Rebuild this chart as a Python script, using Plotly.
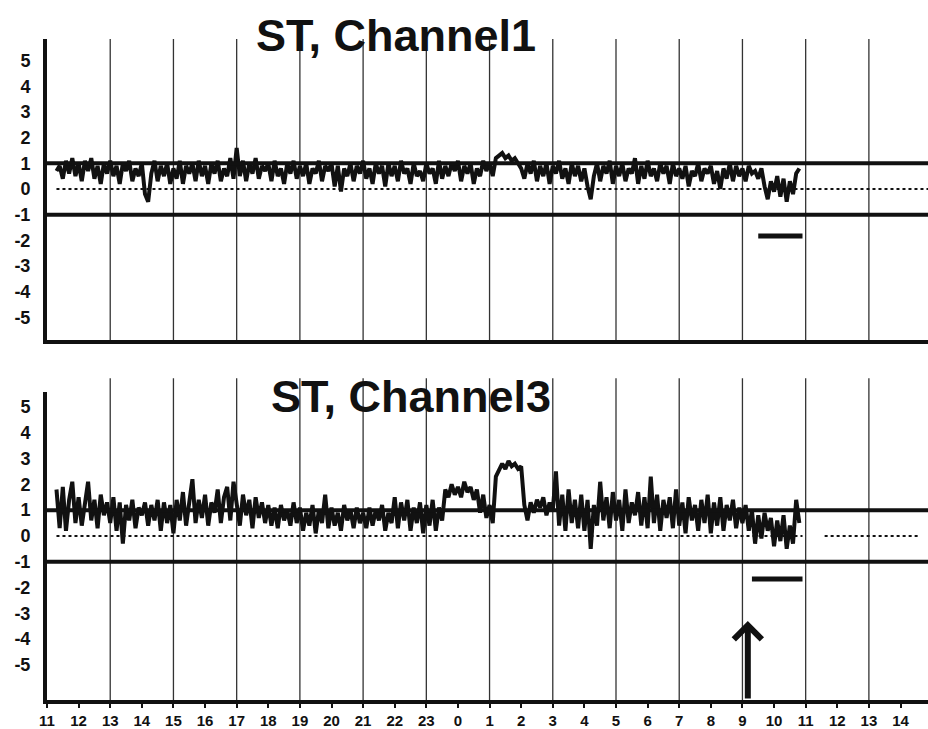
import numpy as np
import plotly.graph_objects as go

# ---------------- data ----------------
# time in hours (continuous, 11 h on day 1 -> 14 h on day 2 = 38)
tick_hours = list(range(11, 39))
tick_labels = [str(h % 24) for h in tick_hours]
grid_hours = list(range(13, 39, 2))

t_start = 11.3
t_step = 0.1

# ST level (mm), Channel 1, one row per hour-block
ch1_rows = [
    [0.7, 0.9, 0.4, 1.1, 0.6, 1.2, 0.5],                 # 11.3-11.9
    [1.0, 0.3, 1.1, 0.7, 1.2, 0.4, 0.9, 0.2, 1.0, 0.6],  # 12
    [1.1, 0.5, 0.9, 0.2, 1.0, 0.7, 1.1, 0.3, 0.8, 0.5],  # 13
    [1.0, -0.2, -0.5, 0.6, 1.1, 0.3, 0.9, 0.5, 1.0, 0.2],  # 14
    [0.8, 0.4, 1.1, 0.2, 0.9, 0.6, 1.0, 0.3, 1.1, 0.5],  # 15
    [0.9, 0.2, 1.0, 0.6, 1.1, 0.3, 0.8, 0.5, 1.2, 0.4],  # 16
    [1.6, 0.5, 1.1, 0.3, 1.0, 0.6, 1.2, 0.4, 0.9, 0.7],  # 17
    [1.0, 0.3, 1.1, 0.5, 0.8, 0.2, 1.0, 0.6, 1.1, 0.4],  # 18
    [0.9, 0.5, 1.0, 0.2, 0.8, 0.6, 1.1, 0.3, 0.9, 0.7],  # 19
    [1.0, 0.1, 0.9, -0.1, 0.8, 0.5, 1.0, 0.3, 0.9, 0.6],  # 20
    [1.1, 0.4, 0.8, 0.2, 1.0, 0.6, 0.9, 0.1, 1.0, 0.5],  # 21
    [0.9, 0.3, 1.1, 0.6, 0.8, 0.2, 1.0, 0.5, 0.7, 0.3],  # 22
    [1.0, 0.6, 0.8, 0.2, 1.1, 0.4, 0.9, 0.5, 1.0, 0.7],  # 23
    [1.1, 0.3, 0.9, 0.6, 1.0, 0.2, 0.8, 0.5, 1.1, 0.7],  # 0
    [1.0, 0.5, 1.2, 1.3, 1.4, 1.2, 1.3, 1.1, 1.2, 1.0],  # 1
    [0.8, 0.4, 1.0, 0.6, 1.1, 0.3, 0.9, 0.5, 1.0, 0.2],  # 2
    [0.9, 0.6, 1.1, 0.4, 0.8, 0.2, 1.0, 0.5, 0.9, 0.3],  # 3
    [0.8, 0.1, -0.4, 0.5, 1.0, 0.3, 0.9, 0.6, 1.1, 0.2],  # 4
    [0.9, 0.5, 1.0, 0.3, 0.8, 0.6, 1.2, 0.2, 0.9, 0.4],  # 5
    [1.1, 0.5, 0.8, 0.3, 1.0, 0.6, 0.9, 0.2, 1.0, 0.5],  # 6
    [0.8, 0.4, 0.9, 0.1, 0.7, 0.5, 1.0, 0.3, 0.8, 0.6],  # 7
    [0.9, 0.2, 0.7, 0.0, 0.8, 0.4, 1.0, 0.3, 0.9, 0.5],  # 8
    [0.8, 0.3, 0.9, 0.6, 0.7, 0.4, 0.8, 0.1, -0.4, 0.3],  # 9
    [-0.1, 0.5, -0.3, 0.4, -0.5, 0.3, -0.2, 0.6, 0.8],   # 10.0-10.8
]

# ST level (mm), Channel 3
ch3_rows = [
    [1.8, 0.3, 1.9, 0.2, 1.4, 2.1, 0.5],                 # 11.3-11.9
    [1.5, 0.4, 1.2, 2.1, 0.6, 1.4, 0.3, 1.6, 0.8, 1.3],  # 12
    [0.5, 1.5, 0.2, 1.3, -0.3, 1.2, 0.6, 1.4, 0.3, 1.1],  # 13
    [0.8, 1.3, 0.4, 1.2, 0.6, 1.4, 0.2, 1.3, 0.5, 1.2],  # 14
    [0.1, 1.4, 0.6, 1.7, 0.4, 1.3, 2.2, 0.5, 1.4, 0.7],  # 15
    [1.6, 0.4, 1.3, 0.9, 1.8, 0.5, 1.5, 1.9, 0.6, 2.1],  # 16
    [1.2, 0.4, 1.6, 0.8, 1.4, 0.3, 1.5, 0.7, 1.3, 0.5],  # 17
    [1.2, 0.4, 1.1, 0.3, 1.2, 0.6, 1.0, 0.4, 1.3, 0.5],  # 18
    [1.1, 0.2, 0.9, 0.4, 1.2, 0.1, 1.0, 0.5, 1.6, 0.3],  # 19
    [1.1, 0.4, 0.9, 0.2, 1.2, 0.6, 1.0, 0.3, 1.1, 0.5],  # 20
    [0.9, 0.3, 1.1, 0.4, 1.0, 0.6, 1.2, 0.2, 0.9, 0.5],  # 21
    [1.5, 0.3, 1.3, 0.6, 1.4, 0.2, 1.1, 0.5, 1.3, 0.1],  # 22
    [1.2, 0.4, 1.4, 0.2, 1.1, 0.6, 1.8, 1.5, 2.0, 1.6],  # 23
    [1.9, 1.5, 2.1, 1.7, 1.9, 1.4, 1.8, 0.9, 1.6, 0.7],  # 0
    [1.2, 0.5, 2.3, 2.6, 2.8, 2.6, 2.9, 2.7, 2.8, 2.6],  # 1
    [2.7, 1.2, 0.6, 1.3, 0.9, 1.4, 1.1, 1.5, 0.8, 1.3],  # 2
    [1.0, 2.5, 0.4, 1.6, 0.2, 1.8, 0.5, 1.4, 0.3, 1.6],  # 3
    [0.2, 1.4, -0.5, 1.2, 0.4, 2.1, 0.6, 1.5, 0.3, 1.7],  # 4
    [0.6, 1.4, 0.2, 1.8, 0.5, 1.3, 0.8, 1.7, 0.4, 1.5],  # 5
    [0.3, 2.3, 0.5, 1.6, 0.2, 1.4, 0.7, 1.5, 0.3, 1.8],  # 6
    [0.4, 1.3, 0.1, 1.5, 0.6, 1.2, 0.2, 1.4, 0.5, 1.6],  # 7
    [0.1, 1.3, 0.4, 1.5, 0.2, 1.2, 0.6, 1.4, 0.3, 1.1],  # 8
    [0.5, 1.2, 0.2, 1.0, -0.3, 0.8, -0.1, 0.9, 0.2, 0.7],  # 9
    [-0.4, 0.6, -0.2, 0.8, -0.5, 0.4, -0.3, 1.4, 0.5],   # 10.0-10.8
]

# ST episode markers (start h, end h, drawn level)
ep1 = dict(start=33.5, end=34.9, level=-1.83)
ep3 = dict(start=33.3, end=34.9, level=-1.67)

# limits and baselines
upper_limit, lower_limit, baseline = 1.0, -1.0, 0.0
baseline_segments_ch1 = [(11.3, 38.87)]
baseline_segments_ch3 = [(11.3, 34.9), (35.6, 38.55)]

# event arrow (time, tip level)
arrow_time, arrow_tip = 33.17, -3.3

x_range = [11.0, 38.87]
y1_range = [-5.88, 5.84]
y3_range = [-6.36, 5.58]

# ---------------- build ----------------
ch1 = [v for r in ch1_rows for v in r]
ch3 = [v for r in ch3_rows for v in r]
t1 = np.round(t_start + t_step * np.arange(len(ch1)), 2)
t3 = np.round(t_start + t_step * np.arange(len(ch3)), 2)

fig = go.Figure()
black = "#111111"

for xa, ya, t, v, segs in [("x", "y", t1, ch1, baseline_segments_ch1),
                           ("x2", "y2", t3, ch3, baseline_segments_ch3)]:
    for a, b in segs:
        fig.add_trace(go.Scatter(x=[a, b], y=[baseline, baseline], mode="lines",
                                 line=dict(color=black, width=2, dash="dot"),
                                 xaxis=xa, yaxis=ya, hoverinfo="skip", showlegend=False))
    fig.add_trace(go.Scatter(x=t, y=v, mode="lines", line=dict(color=black, width=4),
                             xaxis=xa, yaxis=ya, showlegend=False))

for xa, ya, ep in [("x", "y", ep1), ("x2", "y2", ep3)]:
    fig.add_trace(go.Scatter(x=[ep["start"], ep["end"]], y=[ep["level"]] * 2, mode="lines",
                             line=dict(color=black, width=5), xaxis=xa, yaxis=ya,
                             showlegend=False))

shapes = []
for h in grid_hours:
    shapes.append(dict(type="line", xref="x", yref="y domain", x0=h, x1=h, y0=0, y1=1,
                       line=dict(color="#333333", width=1.3), layer="below"))
    shapes.append(dict(type="line", xref="x2", yref="y2 domain", x0=h, x1=h, y0=0, y1=1.045,
                       line=dict(color="#333333", width=1.3), layer="below"))
for xr, yr in [("x domain", "y"), ("x2 domain", "y2")]:
    for lv in (upper_limit, lower_limit):
        shapes.append(dict(type="line", xref=xr, yref=yr, x0=0, x1=1, y0=lv, y1=lv,
                           line=dict(color=black, width=4)))

font_family = "Liberation Sans, Arial, sans-serif"
annotations = [
    dict(text="ST, Channel1", xref="paper", yref="paper", x=0.396, y=0.95,
         xanchor="center", yanchor="middle",
         showarrow=False, font=dict(family=font_family, size=45, color=black, weight="bold")),
    dict(text="ST, Channel3", xref="paper", yref="paper", x=0.413, y=0.433,
         xanchor="center", yanchor="middle",
         showarrow=False, font=dict(family=font_family, size=45, color=black, weight="bold")),
    dict(x=arrow_time, y=arrow_tip, xref="x2", yref="y2", ax=arrow_time, ay=y3_range[0],
         axref="x2", ayref="y2", showarrow=True, arrowhead=4, arrowsize=0.9,
         arrowwidth=6, arrowcolor=black, text=""),
]

yaxis_common = dict(tickvals=list(range(-5, 6)), ticktext=[str(v) for v in range(-5, 6)],
                    showgrid=False, zeroline=False, showline=True, linewidth=4, linecolor=black,
                    ticks="", ticklabelstandoff=9,
                    tickfont=dict(family=font_family, size=18, color=black, weight="bold"))
xaxis_common = dict(range=x_range, showgrid=False, zeroline=False, showline=True,
                    linewidth=4, linecolor=black)

fig.update_layout(
    width=928, height=729,
    margin=dict(l=47, r=0, t=0, b=29),
    paper_bgcolor="white", plot_bgcolor="white",
    xaxis=dict(**xaxis_common, anchor="y", showticklabels=False, ticks=""),
    xaxis2=dict(**xaxis_common, anchor="y2", tickvals=tick_hours, ticktext=tick_labels,
                ticks="outside", ticklen=4, tickwidth=1.5, tickcolor=black,
                tickfont=dict(family=font_family, size=15, color=black, weight="bold")),
    yaxis=dict(**yaxis_common, range=y1_range, domain=[0.5143, 0.9443], anchor="x"),
    yaxis2=dict(**yaxis_common, range=y3_range, domain=[0.0, 0.44], anchor="x2"),
    shapes=shapes, annotations=annotations, showlegend=False,
)

fig.write_html("out.html", config={"displayModeBar": False},
               post_script="document.body.style.margin='0';document.body.style.overflow='hidden';")
